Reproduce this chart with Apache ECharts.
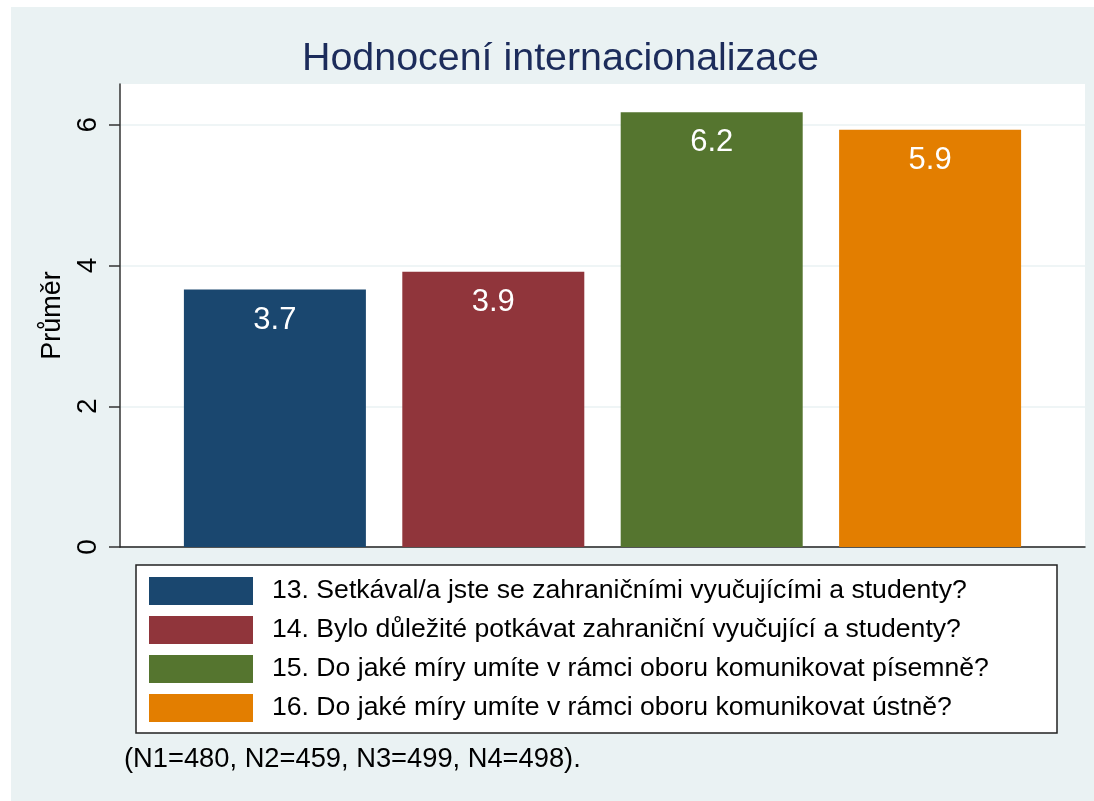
<!DOCTYPE html>
<html>
<head>
<meta charset="utf-8">
<script src="https://cdn.jsdelivr.net/npm/echarts@6/dist/echarts.min.js"></script>
<style>
  html, body { margin: 0; padding: 0; background: #fff; }
  #chart { width: 1094px; height: 801px; }
</style>
</head>
<body>
<div id="chart"></div>
<script>
const questions = [
  '13. Setkával/a jste se zahraničními vyučujícími a studenty?',
  '14. Bylo důležité potkávat zahraniční vyučující a studenty?',
  '15. Do jaké míry umíte v rámci oboru komunikovat písemně?',
  '16. Do jaké míry umíte v rámci oboru komunikovat ústně?'
];
const means = [3.66, 3.91, 6.18, 5.93];
const barColors = ['#1a476f', '#90353b', '#55752f', '#e37e00'];
const yTicks = [0, 2, 4, 6];
const note = '(N1=480, N2=459, N3=499, N4=498).';

const font = "'Liberation Sans', Arial, sans-serif";

const chart = echarts.init(document.getElementById('chart'));

const series = questions.map(function (q, i) {
  return {
    name: q,
    type: 'bar',
    data: [means[i]],
    barWidth: 182,
    barGap: '20%',
    itemStyle: { color: barColors[i] },
    label: {
      show: true,
      position: 'insideTop',
      distance: 15,
      color: '#fff',
      fontFamily: font,
      fontSize: 31,
      formatter: function (p) { return p.value.toFixed(1); }
    }
  };
});

chart.setOption({
  animation: false,
  backgroundColor: '#fff',
  title: {
    text: 'Hodnocení internacionalizace',
    left: 297,
    top: 35,
    textStyle: { color: '#1c2c5b', fontFamily: font, fontSize: 39.4, fontWeight: 'normal' }
  },
  graphic: [
    { type: 'rect', z: -100, shape: { x: 11, y: 7, width: 1083, height: 794 }, style: { fill: '#eaf2f3' } },
    { type: 'rect', z: 1, shape: { x: 136, y: 565, width: 921, height: 168 },
      style: { fill: '#fff', stroke: '#222', lineWidth: 1.5 } },
    { type: 'text', z: 2, left: 124, top: 746,
      style: { text: note, fill: '#000', font: '27.3px ' + font } }
  ],
  grid: {
    left: 120, top: 84, right: 9, bottom: 254,
    show: true, backgroundColor: '#fff', borderWidth: 0
  },
  legend: {
    orient: 'vertical',
    left: 149,
    top: 577,
    z: 5,
    padding: 0,
    itemWidth: 104,
    itemHeight: 28,
    itemGap: 11,
    icon: 'rect',
    selectedMode: false,
    textStyle: { color: '#000', fontFamily: font, fontSize: 26.6, padding: [0, 0, 0, 14] }
  },
  xAxis: {
    type: 'category',
    data: [''],
    axisLine: { lineStyle: { color: '#222', width: 1.5 } },
    axisTick: { show: false },
    axisLabel: { show: false }
  },
  yAxis: {
    type: 'value',
    min: 0,
    max: 6.58,
    interval: 2,
    name: 'Průměr',
    nameLocation: 'middle',
    nameRotate: 90,
    nameGap: 50,
    nameTextStyle: { color: '#000', fontFamily: font, fontSize: 27 },
    axisLine: { show: true, lineStyle: { color: '#333', width: 1.5 } },
    axisTick: { show: true, length: 11, customValues: yTicks, lineStyle: { color: '#333', width: 1.5 } },
    axisLabel: {
      customValues: yTicks,
      rotate: 90,
      margin: 18,
      color: '#000',
      fontFamily: font,
      fontSize: 28
    },
    splitLine: { lineStyle: { color: '#eaf2f3', width: 1.5 } }
  },
  series: series
});
</script>
</body>
</html>
